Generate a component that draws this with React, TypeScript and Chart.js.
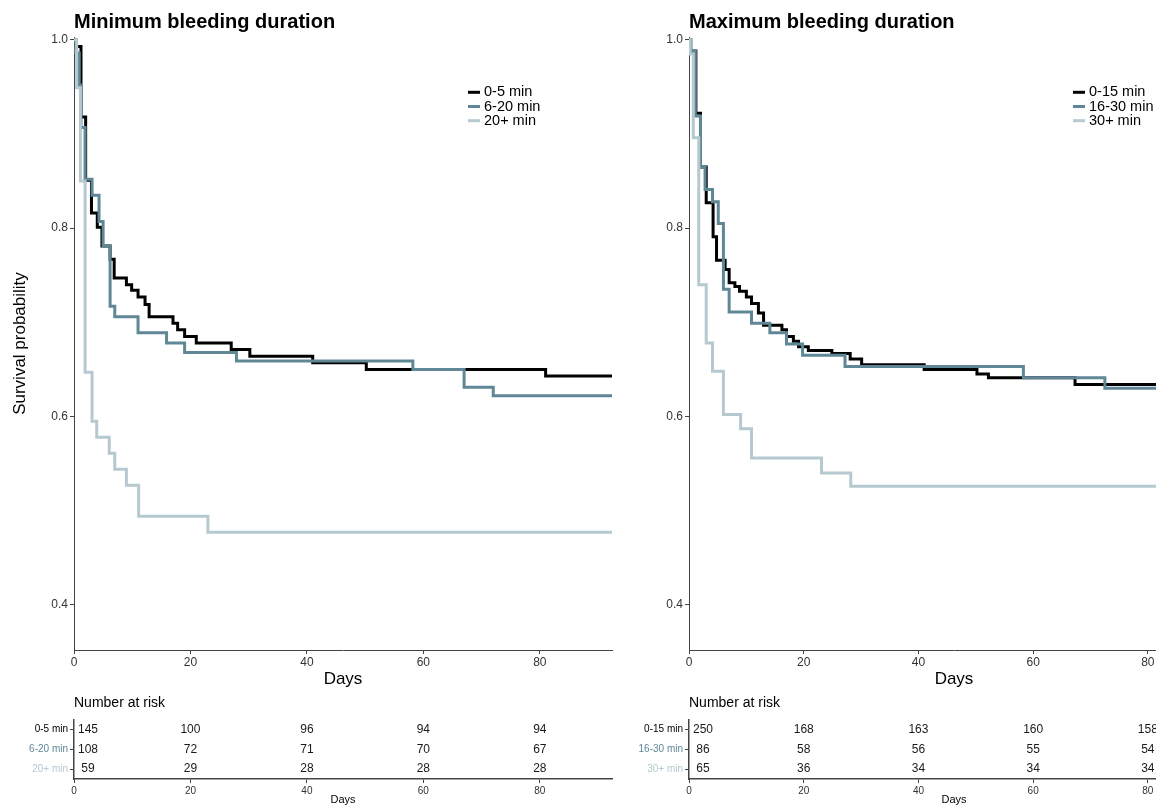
import React, { useEffect, useRef } from "react";
import { Chart, registerables } from "chart.js";

Chart.register(...registerables);

const FONT = "'Liberation Sans', Arial, Helvetica, sans-serif";
Chart.defaults.font.family = FONT;

// ---------- data ----------
const minLabels = ["0-5 min", "6-20 min", "20+ min"];
const maxLabels = ["0-15 min", "16-30 min", "30+ min"];

const minDaysA = [0, 0.3, 1.2, 2.0, 3.0, 4.0, 4.8, 6.2, 6.9, 9.0, 9.9, 11.0, 12.2, 12.9, 17.0, 17.8, 19.0, 21.0, 27.0, 30.2, 41.0, 50.2, 81.0, 92.4];
const minSurvA = [1.0, 0.993, 0.918, 0.851, 0.816, 0.801, 0.781, 0.767, 0.747, 0.74, 0.734, 0.727, 0.719, 0.706, 0.699, 0.692, 0.685, 0.678, 0.671, 0.664, 0.657, 0.65, 0.643, 0.643];

const minDaysB = [0, 0.3, 0.9, 1.2, 1.9, 3.1, 4.3, 5.0, 6.2, 7.0, 11.0, 15.9, 19.0, 27.9, 58.2, 67.0, 72.0, 92.4];
const minSurvB = [1.0, 0.986, 0.952, 0.907, 0.852, 0.835, 0.807, 0.781, 0.717, 0.706, 0.689, 0.678, 0.668, 0.659, 0.65, 0.631, 0.622, 0.622];

const minDaysC = [0, 0.45, 1.1, 1.9, 3.1, 3.9, 6.05, 7.0, 9.0, 11.1, 23.0, 92.4];
const minSurvC = [1.0, 0.949, 0.85, 0.647, 0.595, 0.578, 0.561, 0.544, 0.527, 0.494, 0.477, 0.477];

const maxDaysA = [0, 0.3, 1.2, 2.0, 3.0, 4.2, 4.8, 6.3, 7.0, 8.0, 8.8, 10.0, 10.9, 12.1, 13.0, 16.2, 17.0, 18.2, 19.1, 20.8, 24.9, 28.1, 30.1, 41.0, 50.2, 52.2, 67.3, 92.4];
const maxSurvA = [1.0, 0.988, 0.922, 0.865, 0.827, 0.791, 0.766, 0.756, 0.742, 0.738, 0.733, 0.727, 0.72, 0.71, 0.697, 0.692, 0.685, 0.68, 0.674, 0.67, 0.667, 0.661, 0.655, 0.65, 0.645, 0.641, 0.634, 0.634];

const maxDaysB = [0, 0.3, 1.1, 2.0, 2.8, 4.1, 5.1, 6.0, 7.0, 10.9, 14.1, 17.0, 19.8, 27.2, 58.3, 72.5, 92.4];
const maxSurvB = [1.0, 0.988, 0.919, 0.865, 0.841, 0.828, 0.805, 0.735, 0.711, 0.699, 0.689, 0.677, 0.665, 0.653, 0.641, 0.63, 0.63];

const maxDaysC = [0, 0.2, 0.75, 1.7, 3.0, 4.1, 6.0, 9.0, 10.9, 23.1, 28.2, 92.4];
const maxSurvC = [1.0, 0.985, 0.896, 0.74, 0.678, 0.648, 0.602, 0.587, 0.556, 0.54, 0.526, 0.526];

const riskTimes = [0, 20, 40, 60, 80];
const minRiskA = [145, 100, 96, 94, 94];
const minRiskB = [108, 72, 71, 70, 67];
const minRiskC = [59, 29, 28, 28, 28];
const maxRiskA = [250, 168, 163, 160, 158];
const maxRiskB = [86, 58, 56, 55, 54];
const maxRiskC = [65, 36, 34, 34, 34];

const xTicks = [0, 20, 40, 60, 80];
const yTicks = [0.4, 0.6, 0.8, 1.0];
const X_MAX = 92.4;
const Y_MIN = 0.352;
const Y_MAX = 1.003;

// ---------- style ----------
const COLORS = ["#000000", "#5f8796", "#b6c9d0"];
const AXIS = "#444444";
const TICK = "#333333";

const kmLegendPlugin = {
  id: "kmLegend",
  afterDraw(chart: any, _args: any, opts: any) {
    const { ctx, chartArea } = chart;
    const x0 = chartArea.left + opts.offsetX;
    let y = chartArea.top + opts.offsetY;
    ctx.save();
    ctx.font = `${opts.fontSize}px ${FONT}`;
    ctx.textBaseline = "middle";
    ctx.textAlign = "left";
    chart.data.datasets.forEach((ds: any) => {
      ctx.strokeStyle = ds.borderColor;
      ctx.lineWidth = 3;
      ctx.beginPath();
      ctx.moveTo(x0, y);
      ctx.lineTo(x0 + 12, y);
      ctx.stroke();
      ctx.fillStyle = "#000";
      ctx.fillText(ds.label, x0 + 16, y);
      y += opts.spacing;
    });
    ctx.restore();
  },
};

const riskTextPlugin = {
  id: "riskText",
  afterDatasetsDraw(chart: any, _args: any, opts: any) {
    const { ctx } = chart;
    ctx.save();
    ctx.font = `${opts.fontSize}px ${FONT}`;
    ctx.textBaseline = "middle";
    ctx.textAlign = "center";
    ctx.fillStyle = "#1a1a1a";
    chart.data.datasets.forEach((ds: any, di: number) => {
      const meta = chart.getDatasetMeta(di);
      meta.data.forEach((el: any, i: number) => {
        const shift = i === 0 ? opts.firstShift : 0;
        ctx.fillText(String(ds.counts[i]), el.x + shift, el.y);
      });
    });
    ctx.restore();
  },
};

function kmConfig(p: {
  title: string;
  labels: string[];
  days: number[][];
  surv: number[][];
  yWidth: number;
  padRight: number;
  showYTitle: boolean;
  legendX: number;
}) {
  return {
    type: "scatter" as const,
    data: {
      datasets: p.labels.map((lab, k) => ({
        label: lab,
        data: p.days[k].map((d, i) => ({ x: d, y: p.surv[k][i] })),
        showLine: true,
        stepped: "before",
        borderColor: COLORS[k],
        backgroundColor: COLORS[k],
        borderWidth: 3,
        pointRadius: 0,
        pointHoverRadius: 0,
        order: 2 - k,
      })),
    },
    options: {
      responsive: false,
      animation: false,
      events: [],
      devicePixelRatio: 1,
      layout: { padding: { left: 0, right: p.padRight, top: 0, bottom: 0 } },
      plugins: {
        legend: { display: false },
        tooltip: { enabled: false },
        title: {
          display: true,
          text: p.title,
          align: "start",
          fullSize: false,
          color: "#000",
          font: { size: 20, weight: "bold", family: FONT },
          padding: { top: 10, bottom: 3 },
        },
        kmLegend: { offsetX: p.legendX, offsetY: 55.3, spacing: 14.2, fontSize: 14.5 },
      },
      scales: {
        x: {
          type: "linear",
          min: 0,
          max: X_MAX,
          afterBuildTicks: (s: any) => {
            s.ticks = xTicks.map((v) => ({ value: v }));
          },
          afterFit: (s: any) => {
            s.height = 50;
          },
          grid: { display: true, drawOnChartArea: false, drawTicks: true, tickLength: 4, color: AXIS },
          border: { display: true, color: AXIS, width: 1 },
          ticks: { color: TICK, font: { size: 12, family: FONT }, padding: 1, maxRotation: 0 },
          title: { display: true, text: "Days", color: "#000", font: { size: 17, family: FONT }, padding: { top: 0, bottom: 10 } },
        },
        y: {
          type: "linear",
          min: Y_MIN,
          max: Y_MAX,
          afterBuildTicks: (s: any) => {
            s.ticks = yTicks.map((v) => ({ value: v }));
          },
          afterFit: (s: any) => {
            s.width = p.yWidth;
          },
          grid: { display: true, drawOnChartArea: false, drawTicks: true, tickLength: 4, color: AXIS },
          border: { display: true, color: AXIS, width: 1 },
          ticks: { color: TICK, font: { size: 12, family: FONT }, padding: 2, callback: (v: any) => Number(v).toFixed(1) },
          title: { display: p.showYTitle, text: "Survival probability", color: "#000", font: { size: 17, family: FONT }, padding: { top: 10, bottom: 0 } },
        },
      },
    },
    plugins: [kmLegendPlugin],
  };
}

function riskConfig(p: { labels: string[]; counts: number[][]; yWidth: number; padRight: number; firstShift: number }) {
  return {
    type: "scatter" as const,
    data: {
      datasets: p.labels.map((lab, k) => ({
        label: lab,
        counts: p.counts[k],
        data: riskTimes.map((t) => ({ x: t, y: lab })),
        pointRadius: 0,
        pointHoverRadius: 0,
        showLine: false,
      })),
    },
    options: {
      responsive: false,
      animation: false,
      events: [],
      devicePixelRatio: 1,
      layout: { padding: { left: 0, right: p.padRight, top: 0, bottom: 0 } },
      plugins: {
        legend: { display: false },
        tooltip: { enabled: false },
        title: {
          display: true,
          text: "Number at risk",
          align: "start",
          fullSize: false,
          color: "#000",
          font: { size: 14, weight: "normal", family: FONT },
          padding: { top: 5, bottom: 7.7 },
        },
        riskText: { fontSize: 12, firstShift: p.firstShift },
      },
      scales: {
        x: {
          type: "linear",
          min: 0,
          max: X_MAX,
          afterBuildTicks: (s: any) => {
            s.ticks = xTicks.map((v) => ({ value: v }));
          },
          afterFit: (s: any) => {
            s.height = 28;
          },
          grid: { display: true, drawOnChartArea: false, drawTicks: true, tickLength: 4, color: AXIS },
          border: { display: true, color: AXIS, width: 1.5 },
          ticks: { color: TICK, font: { size: 10, family: FONT }, padding: 2, maxRotation: 0 },
          title: { display: true, text: "Days", color: "#000", font: { size: 11, family: FONT }, padding: { top: 0, bottom: 0 } },
        },
        y: {
          type: "category",
          labels: p.labels,
          offset: true,
          afterFit: (s: any) => {
            s.width = p.yWidth;
          },
          grid: { display: true, drawOnChartArea: false, drawTicks: true, tickLength: 4, color: AXIS, offset: false },
          border: { display: true, color: AXIS, width: 1.5 },
          ticks: { color: (c: any) => COLORS[c.index], font: { size: 10, family: FONT }, padding: 2 },
        },
      },
    },
    plugins: [riskTextPlugin],
  };
}

function ChartBox(props: { make: () => any; left: number; top: number; width: number; height: number }) {
  const ref = useRef<HTMLCanvasElement | null>(null);
  useEffect(() => {
    const chart = new Chart(ref.current as HTMLCanvasElement, props.make());
    return () => chart.destroy();
  }, []);
  return (
    <canvas
      ref={ref}
      width={props.width}
      height={props.height}
      style={{ position: "absolute", left: props.left, top: props.top, width: props.width, height: props.height }}
    />
  );
}

export default function App() {
  return (
    <div style={{ position: "absolute", left: 0, top: 0, width: 1156, height: 807, overflow: "hidden", background: "#fff" }}>
      <ChartBox
        left={0}
        top={0}
        width={620}
        height={700}
        make={() =>
          kmConfig({
            title: "Minimum bleeding duration",
            labels: minLabels,
            days: [minDaysA, minDaysB, minDaysC],
            surv: [minSurvA, minSurvB, minSurvC],
            yWidth: 74,
            padRight: 8,
            showYTitle: true,
            legendX: 394,
          })
        }
      />
      <ChartBox
        left={620}
        top={0}
        width={610}
        height={700}
        make={() =>
          kmConfig({
            title: "Maximum bleeding duration",
            labels: maxLabels,
            days: [maxDaysA, maxDaysB, maxDaysC],
            surv: [maxSurvA, maxSurvB, maxSurvC],
            yWidth: 69,
            padRight: 11,
            showYTitle: false,
            legendX: 384,
          })
        }
      />
      <ChartBox
        left={0}
        top={690}
        width={620}
        height={117}
        make={() => riskConfig({ labels: minLabels, counts: [minRiskA, minRiskB, minRiskC], yWidth: 74, padRight: 8, firstShift: 14 })}
      />
      <ChartBox
        left={620}
        top={690}
        width={610}
        height={117}
        make={() => riskConfig({ labels: maxLabels, counts: [maxRiskA, maxRiskB, maxRiskC], yWidth: 69, padRight: 11, firstShift: 14 })}
      />
    </div>
  );
}
